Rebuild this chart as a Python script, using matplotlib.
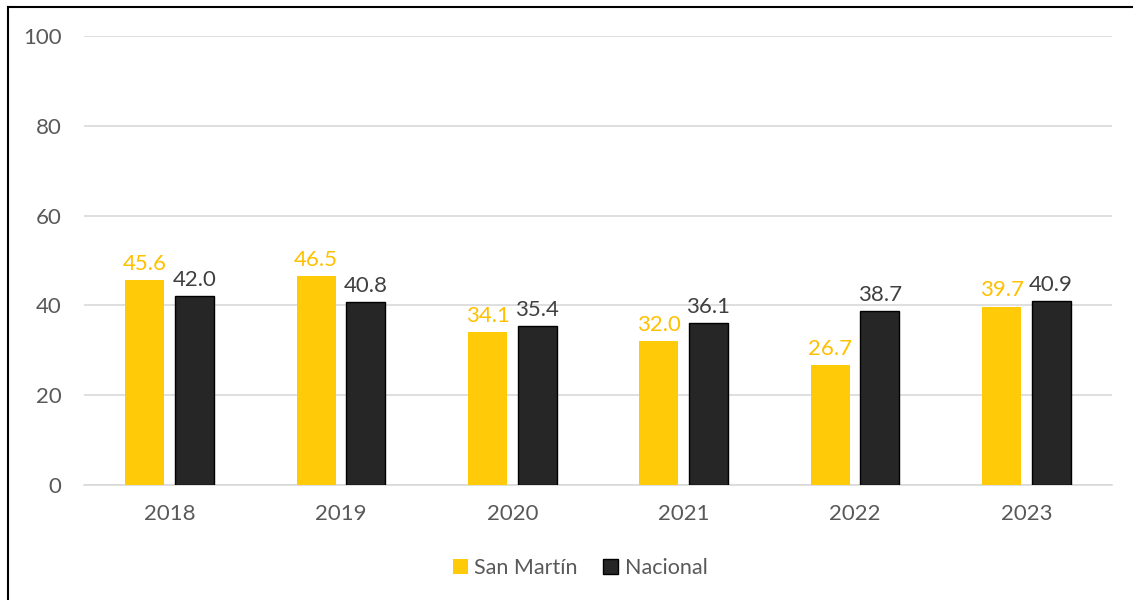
import numpy as np
import matplotlib.pyplot as plt
from matplotlib.lines import Line2D
from matplotlib.patches import Patch

years = ['2018', '2019', '2020', '2021', '2022', '2023']
san_martin = [45.6, 46.5, 34.1, 32.0, 26.7, 39.7]
nacional = [42.0, 40.8, 35.4, 36.1, 38.7, 40.9]

amarillo = '#FFCA08'
negro = '#262626'
gris_txt = '#595959'

plt.rcParams['font.family'] = ['Lato', 'DejaVu Sans']

fig = plt.figure(figsize=(11.33, 6.0), dpi=100)
ax = fig.add_axes([0.0741, 0.1917, 0.9074, 0.7483])

x = np.arange(len(years))
w = 0.228
off = 0.1445

ax.bar(x - off, san_martin, w, color=amarillo, zorder=3)
ax.bar(x + off, nacional, w, color=negro, edgecolor='black', linewidth=1, zorder=3)

# etiquetas de datos
for i in range(len(years)):
    ax.text(x[i] - off, san_martin[i] + 1.4, f'{san_martin[i]:.1f}', ha='center', va='bottom',
            fontsize=16, color='#FFC000')
    ax.text(x[i] + off, nacional[i] + 1.4, f'{nacional[i]:.1f}', ha='center', va='bottom',
            fontsize=16, color='#404040')

ax.set_xlim(-0.5, len(years) - 0.5)
ax.set_ylim(0, 100)
ax.set_yticks([0, 20, 40, 60, 80, 100])
ax.set_xticks(x)
ax.set_xticklabels(years)
ax.tick_params(axis='both', length=0, labelsize=16, labelcolor=gris_txt)
ax.tick_params(axis='x', pad=14)
ax.tick_params(axis='y', pad=16)
ax.grid(axis='y', color='#D9D9D9', linewidth=1.2, zorder=0)
for s in ['top', 'right', 'left']:
    ax.spines[s].set_visible(False)
ax.spines['bottom'].set_color('#D9D9D9')
ax.spines['bottom'].set_linewidth(1.2)

handles = [Patch(facecolor=amarillo, label='San Martín'),
           Patch(facecolor=negro, edgecolor='black', label='Nacional')]
fig.legend(handles=handles, loc='center', bbox_to_anchor=(0.512, 0.053), ncol=2, frameon=False,
           fontsize=15.5, labelcolor=gris_txt, handlelength=0.7, handleheight=0.7,
           handletextpad=0.3, columnspacing=1.2)

# borde del grafico (recortado)
fig.add_artist(Line2D([8 / 1133, 8 / 1133], [0, 1 - 7 / 600], color='black', linewidth=1.5,
                      transform=fig.transFigure))
fig.add_artist(Line2D([8 / 1133, 1], [1 - 7 / 600, 1 - 7 / 600], color='black', linewidth=1.5,
                      transform=fig.transFigure))

fig.savefig('out.png', dpi=100)
